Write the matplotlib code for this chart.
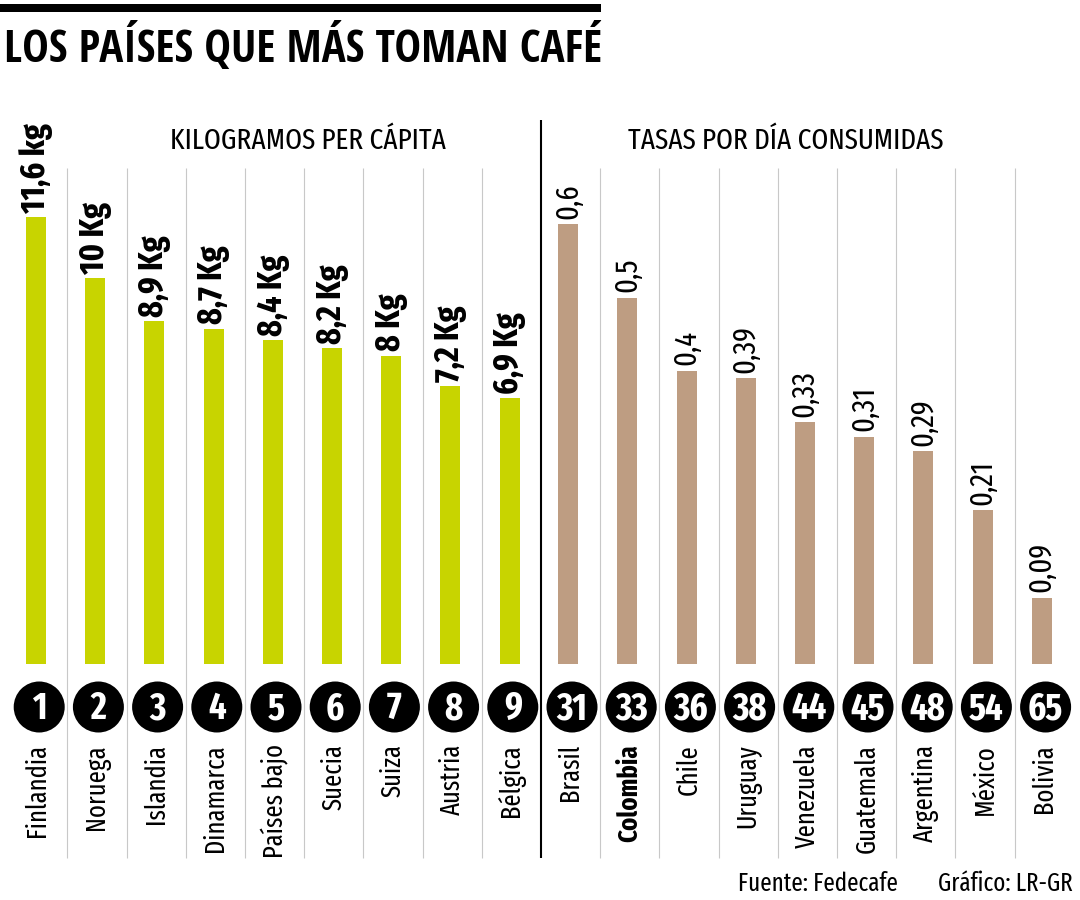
import numpy as np
import matplotlib
matplotlib.use("Agg")
import matplotlib.pyplot as plt
from matplotlib.patches import Circle, Rectangle

# data
kg_countries = ["Finlandia", "Noruega", "Islandia", "Dinamarca", "Países bajo",
                "Suecia", "Suiza", "Austria", "Bélgica"]
kg_values = [11.6, 10, 8.9, 8.7, 8.4, 8.2, 8, 7.2, 6.9]
kg_labels = ["11,6 kg", "10 Kg", "8,9 Kg", "8,7 Kg", "8,4 Kg",
             "8,2 Kg", "8 Kg", "7,2 Kg", "6,9 Kg"]
kg_ranks = [1, 2, 3, 4, 5, 6, 7, 8, 9]

cup_countries = ["Brasil", "Colombia", "Chile", "Uruguay", "Venezuela",
                 "Guatemala", "Argentina", "México", "Bolivia"]
cup_values = [0.6, 0.5, 0.4, 0.39, 0.33, 0.31, 0.29, 0.21, 0.09]
cup_ranks = [31, 33, 36, 38, 44, 45, 48, 54, 65]

GREEN = "#c8d400"
BROWN = "#be9d82"
GRID = "#c8c8c8"
COND = ["Fira Sans Extra Condensed", "DejaVu Sans"]
TITLE_FONT = ["Open Sans Condensed", "Fira Sans Condensed", "DejaVu Sans"]

W, H = 1080, 900
X0, COL_W = 8.1, 59.2          # left edge and width of a column, px
BASE, TOP = 664, 120           # bar baseline and axes top, px
KG_PX, CUP_PX = 38.56, 732.8   # px per unit on each panel

plt.rcParams["font.family"] = COND

fig = plt.figure(figsize=(W / 100, H / 100), dpi=100)
fig.patch.set_facecolor("white")
renderer = fig.canvas.get_renderer()


def fit(texts, target, vertical=False):
    # scale a group of texts so the first one spans `target` pixels
    bb = texts[0].get_window_extent(renderer)
    cur = bb.height if vertical else bb.width
    k = target / cur
    for t in texts:
        t.set_fontsize(t.get_fontsize() * k)


# background layer in pixel coordinates
bg = fig.add_axes([0, 0, 1, 1], zorder=0)
bg.set_xlim(0, W)
bg.set_ylim(H, 0)
bg.axis("off")


def col_x(i):
    return X0 + COL_W * (i + 0.5)


# header
bg.add_patch(Rectangle((0, 4), 601, 8.3, color="black", lw=0))
title = bg.text(4, 62, "LOS PAÍSES QUE MÁS TOMAN CAFÉ", fontsize=30, fontweight="bold",
                family=TITLE_FONT, ha="left", va="baseline")
fit([title], 596)
sub1 = bg.text(308, 149, "KILOGRAMOS PER CÁPITA", fontsize=20, ha="center", va="baseline")
sub2 = bg.text(786, 149, "TASAS POR DÍA CONSUMIDAS", fontsize=20, ha="center", va="baseline")
fit([sub1, sub2], 275)

# column separators
n_cols = len(kg_countries) + len(cup_countries)
for k in range(1, n_cols):
    xb = X0 + COL_W * k
    if k == len(kg_countries):
        bg.plot([xb, xb], [120, 858], color="black", lw=1.5, solid_capstyle="butt")
    else:
        bg.plot([xb, xb], [168, 858], color=GRID, lw=0.8, solid_capstyle="butt")

# rank circles and country names
all_countries = kg_countries + cup_countries
all_ranks = kg_ranks + cup_ranks
rank_texts, name_texts = [], []
for i, (name, rank) in enumerate(zip(all_countries, all_ranks)):
    cx = col_x(i) + 1.5
    bg.add_patch(Circle((cx, 707), 25.5, color="black", lw=0))
    rank_texts.append(bg.text(cx, 709, str(rank), color="white", fontsize=24,
                              fontweight="bold", ha="center", va="center"))
    name_texts.append(bg.text(col_x(i), 744, name, fontsize=20, rotation=90,
                              ha="center", va="top",
                              fontweight="bold" if name == "Colombia" else "normal"))
fit(rank_texts[9:] + rank_texts[:9], 31)
fit(name_texts, 93, vertical=True)

# footer
src = bg.text(738, 891, "Fuente: Fedecafe", fontsize=18, ha="left", va="baseline")
cred = bg.text(1073, 891, "Gráfico: LR-GR", fontsize=18, ha="right", va="baseline")
fit([src, cred], 160)


def bar_axes(left_px, px_per_unit):
    ax = fig.add_axes([left_px / W, 1 - BASE / H, COL_W * 9 / W, (BASE - TOP) / H],
                      zorder=1)
    ax.patch.set_alpha(0)
    ax.set_xlim(-0.5, 8.5)
    ax.set_ylim(0, (BASE - TOP) / px_per_unit)
    ax.axis("off")
    return ax


bar_w = 20 / COL_W

ax1 = bar_axes(X0, KG_PX)
x1 = np.arange(len(kg_values))
ax1.bar(x1 - 0.03, kg_values, width=bar_w, color=GREEN)
kg_texts = []
for xi, v, lab in zip(x1, kg_values, kg_labels):
    kg_texts.append(ax1.annotate(lab, (xi - 0.03, v), xytext=(0, 3),
                                 textcoords="offset points", rotation=90, ha="center",
                                 va="bottom", fontsize=23, fontweight="bold"))
fit(kg_texts, 90, vertical=True)

ax2 = bar_axes(X0 + COL_W * 9, CUP_PX)
x2 = np.arange(len(cup_values))
ax2.bar(x2 - 0.04, cup_values, width=bar_w, color=BROWN)
cup_texts = []
for xi, v in zip(x2, cup_values):
    lab = f"{v:g}".replace(".", ",")
    cup_texts.append(ax2.annotate(lab, (xi - 0.04, v), xytext=(0, 4),
                                  textcoords="offset points", rotation=90, ha="center",
                                  va="bottom", fontsize=20))
fit(cup_texts[4:] + cup_texts[:4], 47, vertical=True)

fig.savefig("out.png", dpi=100)
